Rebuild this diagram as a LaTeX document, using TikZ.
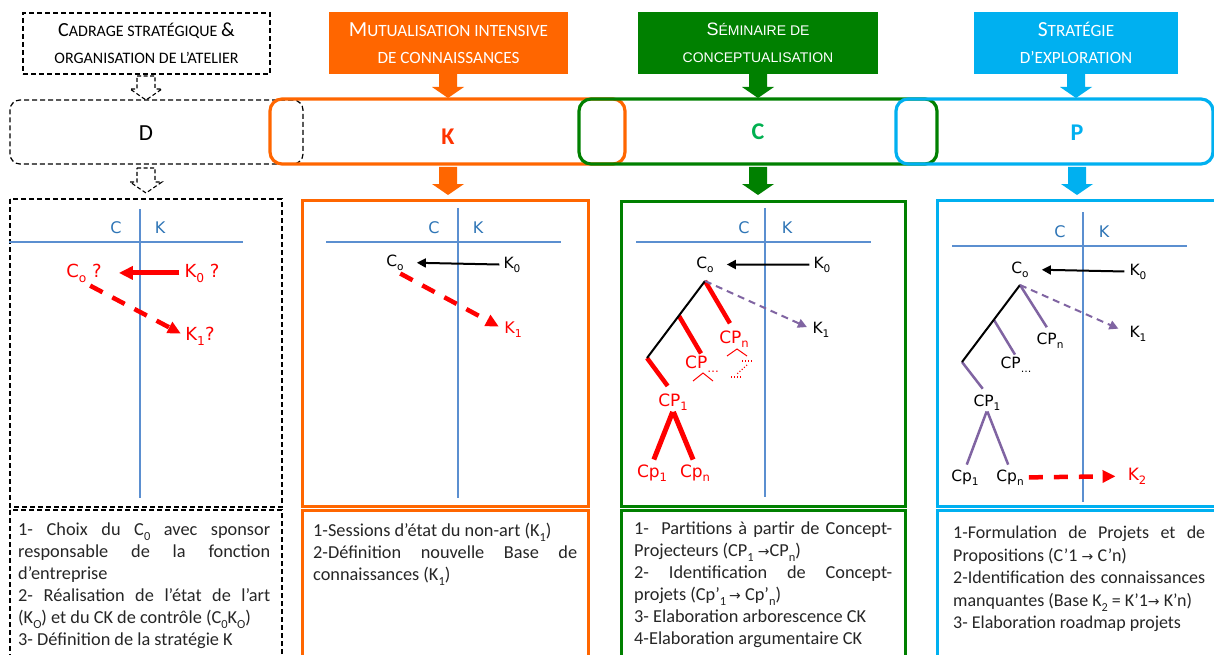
\documentclass[tikz,border=0pt]{standalone}
\usepackage{fontspec}
\usepackage{graphicx}
\setmainfont{Carlito}
\newfontfamily\verd{DejaVu Sans}
\newfontfamily\arialf{Liberation Sans}
\usetikzlibrary{arrows.meta}
\definecolor{orng}{HTML}{FF6600}
\definecolor{grn}{HTML}{008000}
\definecolor{blu}{HTML}{00B0F0}
\definecolor{klab}{HTML}{FF3300}
\definecolor{clab}{HTML}{00B050}
\definecolor{ckline}{HTML}{5B8FD0}
\definecolor{cktext}{HTML}{2E75B6}
\definecolor{purp}{HTML}{8064A2}
\definecolor{redd}{HTML}{FF0000}
\definecolor{txt}{HTML}{262626}
\newcommand\sub[1]{\raisebox{-0.28em}{\scalebox{0.68}{#1}}}
\newcommand\capbig[2]{{\fontsize{#1}{20}\selectfont #2}}
\newcommand\myarr{{\verd\fontsize{14}{22}\selectfont →}}
\newcommand\blockarrow[4]{\fill[#4] (#1-9,#2) -- (#1+9,#2) -- (#1+9,#3-11) -- (#1+16,#3-11) -- (#1,#3) -- (#1-16,#3-11) -- (#1-9,#3-11) -- cycle;}
\newcommand\dblockarrow[3]{\filldraw[fill=white, draw=black, line width=1.1pt, dash pattern=on 4pt off 2.5pt] (#1-9,#2) -- (#1+9,#2) -- (#1+9,#3-11) -- (#1+16,#3-11) -- (#1,#3) -- (#1-16,#3-11) -- (#1-9,#3-11) -- cycle;}
\begin{document}
\begin{tikzpicture}[x=1pt,y=-1pt,
  dashbox/.style={draw=black, line width=1.2pt, dash pattern=on 5pt off 3pt},
  hdr/.style={inner sep=0, align=center, font=\fontsize{16}{27}\selectfont},
  rowbox/.style={line width=3.2pt, rounded corners=12pt, inner sep=0},
  ckl/.style={draw=ckline, line width=1.3pt},
  ckt/.style={text=cktext, font=\verd\fontsize{16}{16}\selectfont, inner sep=0},
  lbl/.style={font=\verd\fontsize{15.5}{16}\selectfont, inner sep=0, anchor=base},
  rlbl/.style={lbl, text=redd, font=\verd\fontsize{17}{18}\selectfont},
  body/.style={anchor=north west, inner sep=0, align=justify, text=txt, font=\fontsize{18.3}{22}\selectfont},
  blkarr/.style={draw=black, line width=2pt, -{Triangle[length=9pt,width=9pt]}},
  redarr/.style={draw=redd, line width=5pt, -{Triangle[length=14pt,width=13pt]}},
  reddash/.style={draw=redd, line width=4.5pt, dash pattern=on 14pt off 11pt, -{Triangle[length=13pt,width=12pt]}},
  purdash/.style={draw=purp, line width=2pt, dash pattern=on 7pt off 5pt, -{Triangle[length=9pt,width=9pt]}},
  blkline/.style={draw=black, line width=2pt},
  redbr/.style={draw=redd, line width=4.5pt},
  purbr/.style={draw=purp, line width=2.5pt},
  thinred/.style={draw=redd, line width=1pt}
]
\fill[white] (0,0) rectangle (1214,655);
\useasboundingbox (0,0) rectangle (1214,655);

% ---------- headers ----------
\node[hdr, dashbox, minimum width=247pt, minimum height=61pt] (hD) at (146.5,43.5)
  {\capbig{20}{C}ADRAGE STRATÉGIQUE \capbig{20}{\&}\\ORGANISATION DE L’ATELIER};
\node[hdr, fill=orng, text=white, minimum width=239pt, minimum height=62pt, font=\fontsize{17.2}{27}\selectfont] (hK) at (448.5,43)
  {\capbig{21.5}{M}UTUALISATION INTENSIVE\\DE CONNAISSANCES};
\node[hdr, fill=grn, text=white, minimum width=240pt, minimum height=62pt, font=\arialf\fontsize{14}{27}\selectfont] (hC) at (758,43)
  {{\fontsize{18}{20}\selectfont S}ÉMINAIRE DE\\CONCEPTUALISATION};
\node[hdr, fill=blu, text=white, minimum width=204pt, minimum height=62pt, font=\fontsize{17.2}{27}\selectfont] (hP) at (1076,43)
  {\capbig{21.5}{S}TRATÉGIE\\D’EXPLORATION};

% ---------- block arrows ----------
\dblockarrow{146}{76}{100}
\dblockarrow{146}{168}{193}
\blockarrow{448}{74}{98}{orng}
\blockarrow{758}{74}{98}{grn}
\blockarrow{1076}{74}{98}{blu}
\blockarrow{448}{167}{195}{orng}
\blockarrow{758}{167}{195}{grn}
\blockarrow{1077}{167}{195}{blu}

% ---------- row boxes ----------
\node[dashbox, rounded corners=10pt, minimum width=293pt, minimum height=64pt, inner sep=0] (rD) at (156.5,132) {};
\node[rowbox, draw=orng, minimum width=355pt, minimum height=65pt] (rK) at (447.5,131.5) {};
\node[rowbox, draw=grn, minimum width=358pt, minimum height=65pt] (rC) at (758,131.5) {};
\node[rowbox, draw=blu, minimum width=317pt, minimum height=65pt] (rP) at (1054.5,131.5) {};
\node[font=\fontsize{23}{23}\selectfont, inner sep=0] (lD) at (146,133) {D};
\node[text=klab, font=\bfseries\fontsize{24}{24}\selectfont, inner sep=0] (lK) at (448,137) {K};
\node[text=clab, font=\bfseries\fontsize{24}{24}\selectfont, inner sep=0] (lC) at (758,132) {C};
\node[text=blu, font=\bfseries\fontsize{24}{24}\selectfont, inner sep=0] (lP) at (1077,133) {P};

% ---------- panels ----------
\draw[dashbox] (10,199) rectangle (282,507);
\draw[dashbox] (10,510) rectangle (282,670);
\draw[orng, line width=3pt] (302,200) rectangle (588,506);
\draw[orng, line width=3pt] (302,510) rectangle (588,670);
\draw[grn, line width=3pt] (621,201) rectangle (905,506);
\draw[grn, line width=3pt] (621,510) rectangle (905,670);
\draw[blu, line width=3pt] (937,200) rectangle (1217,506);
\draw[blu, line width=3pt] (937,510) rectangle (1217,670);

% ---------- D panel ----------
\draw[ckl] (9,242) -- (243,242);
\draw[ckl] (140,209) -- (140,498);
\node[ckt] (dC) at (116,228) {C};
\node[ckt] (dK) at (160,228) {K};
\node[rlbl, font=\verd\fontsize{18}{18}\selectfont] (dCo) at (84,277) {C\sub{o} ?};
\node[rlbl, font=\verd\fontsize{18}{18}\selectfont] (dK0) at (202,277) {K\sub{0} ?};
\node[rlbl, font=\verd\fontsize{18}{18}\selectfont] (dK1) at (200,340) {K\sub{1}?};
\draw[redarr, shorten <=5pt, shorten >=17pt] (dK0.west) -- (dCo.east);
\draw[reddash, shorten <=7pt, shorten >=5pt] (dCo.south) -- (dK1.west);

% ---------- K panel ----------
\draw[ckl] (326,242) -- (561,242);
\draw[ckl] (458,208) -- (458,498);
\node[ckt] (kC) at (434,228) {C};
\node[ckt] (kK) at (478,228) {K};
\node[lbl] (kCo) at (395,266) {C\sub{o}};
\node[lbl] (kK0) at (512,268) {K\sub{0}};
\node[rlbl, font=\verd\fontsize{16}{16}\selectfont] (kK1) at (513,333) {K\sub{1}};
\draw[blkarr, shorten <=4pt, shorten >=13pt] (kK0.west) -- (kCo.east);
\draw[reddash, shorten <=6pt, shorten >=6pt] (kCo.south) -- (kK1.west);

% ---------- C panel ----------
\draw[ckl] (636,242) -- (871,242);
\draw[ckl] (765,208) -- (765,497);
\node[ckt] (cC) at (744,228) {C};
\node[ckt] (cK) at (787,228) {K};
\node[lbl] (cCo) at (705,268) {C\sub{o}};
\node[lbl] (cK0) at (822,268) {K\sub{0}};
\node[lbl] (cK1) at (821,333) {K\sub{1}};
\draw[blkarr, shorten <=4pt, shorten >=13pt] (cK0.west) -- (cCo.east);
\coordinate (cr) at (705,281);
\coordinate (cm) at (679,316);
\coordinate (cb) at (647,358);
\node[rlbl] (cCPn) at (734,343) {CP\sub{n}};
\node[rlbl] (cCPd) at (702,368) {CP\sub{…}};
\node[rlbl] (cCP1) at (673,406) {CP\sub{1}};
\node[rlbl] (cCp1) at (652,477) {Cp\sub{1}};
\node[rlbl] (cCpn) at (695,477) {Cp\sub{n}};
\draw[redbr, shorten >=8pt] (cr) -- (cCPn.north);
\draw[redbr, shorten >=2pt] (cm) -- (cCPd.north);
\draw[redbr, shorten >=9pt] (cb) -- (cCP1.north);
\draw[blkline] (cr) -- (cb);
\draw[redbr, line width=5pt, shorten <=1pt, shorten >=5pt] (cCP1.south) -- (cCp1.north);
\draw[redbr, line width=5pt, shorten <=1pt, shorten >=5pt] (cCP1.south) -- (cCpn.north);
\draw[purdash, shorten >=6pt] (cr) -- (cK1.west);
% small partition marks
\draw[thinred] (727,356) -- (737,349) -- (747,356);
\draw[thinred] (693,381) -- (703,373) -- (713,381);
\draw[thinred, dotted, line width=1.2pt] (742,361) -- (752,361);
\draw[thinred, dotted, line width=1.2pt] (747,365) -- (737,374);
\draw[thinred, dotted, line width=1.2pt] (731,377) -- (742,377);

% ---------- P panel ----------
\draw[ckl] (952,246) -- (1187,246);
\draw[ckl] (1083,212) -- (1083,502);
\node[ckt] (pC) at (1060,232) {C};
\node[ckt] (pK) at (1104,232) {K};
\node[lbl] (pCo) at (1020,273) {C\sub{o}};
\node[lbl] (pK0) at (1138,275) {K\sub{0}};
\node[lbl] (pK1) at (1138,337) {K\sub{1}};
\draw[blkarr, shorten <=5pt, shorten >=13pt] (pK0.west) -- (pCo.east);
\coordinate (pr) at (1020,285);
\coordinate (pm) at (994,320);
\coordinate (pb) at (962,362);
\node[lbl] (pCPn) at (1050,344) {CP\sub{n}};
\node[lbl] (pCPd) at (1016,368) {CP\sub{…}};
\node[lbl] (pCP1) at (987,406) {CP\sub{1}};
\node[lbl] (pCp1) at (965,481) {Cp\sub{1}};
\node[lbl] (pCpn) at (1010,481) {Cp\sub{n}};
\node[rlbl] (pK2) at (1137,480) {K\sub{2}};
\draw[purbr, shorten >=6pt] (pr) -- (pCPn.north);
\draw[purbr, shorten >=2pt] (pm) -- (pCPd.north);
\draw[purbr, shorten >=7pt] (pb) -- (pCP1.north);
\draw[blkline] (pr) -- (pb);
\draw[purbr, shorten <=1pt, shorten >=5pt] (pCP1.south) -- (pCp1.north);
\draw[purbr, shorten <=1pt, shorten >=5pt] (pCP1.south) -- (pCpn.north);
\draw[purdash, shorten >=12pt] (pr) -- (pK1.west);
\draw[reddash, shorten <=5pt, shorten >=12pt] (pCpn.east) -- (pK2.west);

% ---------- body texts ----------
\node[body, text width=252pt] (tD) at (18,519.6) {\strut 1- Choix du C\sub{0} avec sponsor\linebreak responsable de la fonction\linebreak d’entreprise\\ 2- Réalisation de l’état de l’art\linebreak (K\sub{O}) et du CK de contrôle (C\sub{0}K\sub{O})\\ 3- Définition de la stratégie K};
\node[body, text width=264pt] (tK) at (313,520.6) {\strut 1-Sessions d’état du non-art (K\sub{1})\\ 2-Définition nouvelle Base de\linebreak connaissances (K\sub{1})};
\node[body, text width=258pt] (tC) at (634,518.6) {\strut 1- \ Partitions à partir de Concept-\linebreak Projecteurs (CP\sub{1} \myarr CP\sub{n})\\ 2- Identification de Concept-\linebreak projets (Cp’\sub{1}\,\myarr\ Cp’\sub{n})\\ 3- Elaboration arborescence CK\\ 4-Elaboration argumentaire CK};
\node[body, text width=252pt, font=\fontsize{18}{22.5}\selectfont] (tP) at (953,522.6) {\strut 1-Formulation de Projets et de\linebreak Propositions (C’1 \myarr\ C’n)\\ 2-Identification des connaissances\linebreak manquantes (Base K\sub{2} = K’1\myarr\ K’n)\\ 3- Elaboration roadmap projets};
\end{tikzpicture}
\end{document}
